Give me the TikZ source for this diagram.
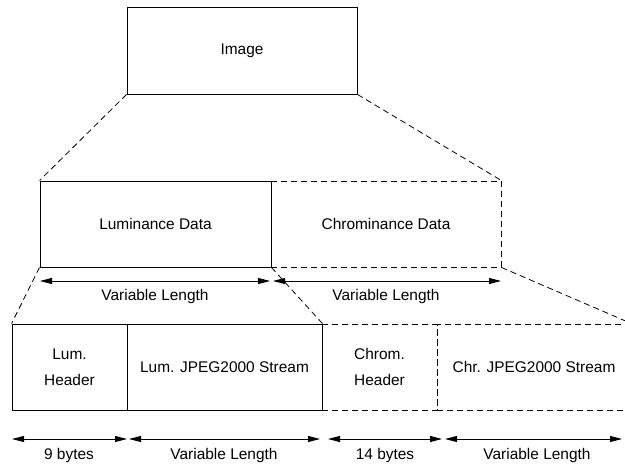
\documentclass[tikz,border=0pt]{standalone}
\usepackage{fontspec}
\setmainfont{Liberation Sans}
\usetikzlibrary{arrows.meta}
\tikzset{
  box/.style={draw, line width=0.9bp, rectangle, inner sep=0pt, minimum height=86bp, align=center},
  dbox/.style={box, dash pattern=on 6bp off 4bp},
  guide/.style={draw, line width=0.8bp, dash pattern=on 6bp off 4bp},
  dim/.style={line width=0.9bp, {Triangle[length=12bp,width=6bp]}-{Triangle[length=12bp,width=6bp]}},
  lbl/.style={inner sep=0pt}
}
\begin{document}
\begin{tikzpicture}[x=1bp,y=-1bp, font=\fontsize{15.5}{26}\selectfont]
\clip (0,0) rectangle (625,470);
\fill[white] (0,0) rectangle (625,470);
% dashed boxes first
\node[dbox, minimum width=230bp] (chrom) at (386,224) {Chrominance Data};
\node[dbox, minimum width=115bp] (chdr) at (379.5,367) {Chrom.\\Header};
\node[dbox, minimum width=194bp] (cstr) at (534,367) {Chr. JPEG2000 Stream};
% solid boxes
\node[box, minimum width=230bp, minimum height=87bp] (img) at (242,50.5) {Image};
\node[box, minimum width=231bp] (lum) at (155.5,224) {Luminance Data};
\node[box, minimum width=115bp] (lhdr) at (69.5,367) {Lum.\\Header};
\node[box, minimum width=195bp] (lstr) at (224.5,367) {Lum. JPEG2000 Stream};
% guide lines
\draw[guide] (img.south west) -- (lum.north west);
\draw[guide] (img.south east) -- (chrom.north east);
\draw[guide] (lum.south west) -- (lhdr.north west);
\draw[guide] (lum.south east) -- (lstr.north east);
\draw[guide] (chrom.south east) -- (cstr.north east);
% dimension coordinates
\coordinate (m1) at (40,281);
\coordinate (m2) at (270,281);
\coordinate (m3) at (273,281);
\coordinate (m4) at (501,281);
\coordinate (b1) at (12,439);
\coordinate (b2) at (127,439);
\coordinate (b3) at (129,439);
\coordinate (b4) at (320,439);
\coordinate (b5) at (328,439);
\coordinate (b6) at (442,439);
\coordinate (b7) at (445,439);
\coordinate (b8) at (622,439);
\draw[dim] (m1) -- (m2);
\draw[dim] (m3) -- (m4);
\draw[dim] (b1) -- (b2);
\draw[dim] (b3) -- (b4);
\draw[dim] (b5) -- (b6);
\draw[dim] (b7) -- (b8);
% labels
\node[lbl] (t1) at (155,297) {Variable Length};
\node[lbl] (t2) at (386,297) {Variable Length};
\node[lbl] (t3) at (69,456) {9 bytes};
\node[lbl] (t4) at (224,456) {Variable Length};
\node[lbl] (t5) at (385,456) {14 bytes};
\node[lbl] (t6) at (537,456) {Variable Length};
\end{tikzpicture}
\end{document}
